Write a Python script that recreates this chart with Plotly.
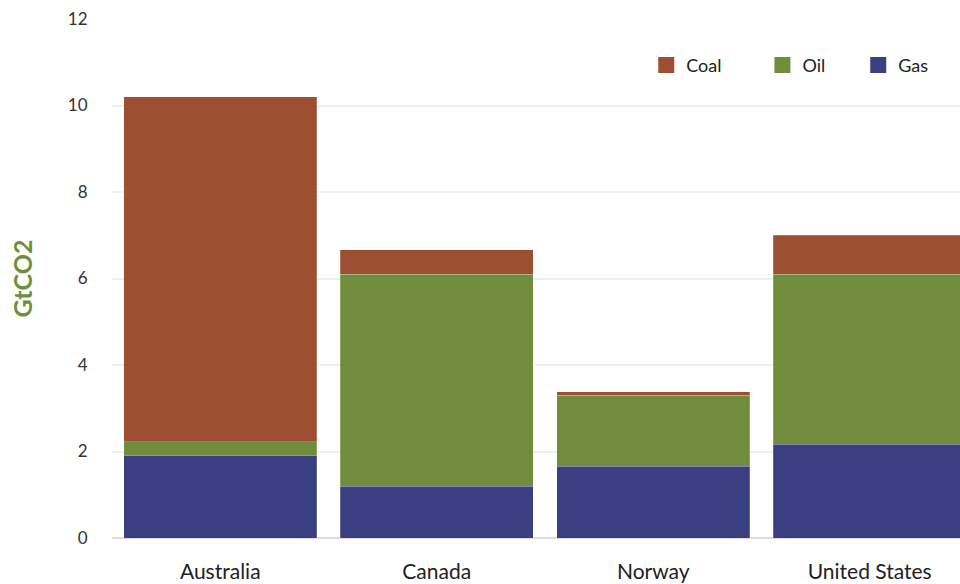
import plotly.graph_objects as go

countries = ["Australia", "Canada", "Norway", "United States"]
gas = [1.9, 1.2, 1.66, 2.17]
oil = [0.32, 4.9, 1.64, 3.93]
coal = [7.98, 0.57, 0.08, 0.9]

series_names = ["Coal", "Oil", "Gas"]
colors = {"Coal": "#9C4F31", "Oil": "#708D3D", "Gas": "#393F80"}
legend_ids = {"Coal": "legend", "Oil": "legend2", "Gas": "legend3"}
legend_x = {"Coal": 0.630, "Oil": 0.767, "Gas": 0.880}

FONT = "Lato"

fig = go.Figure()
for name, vals in [("Gas", gas), ("Oil", oil), ("Coal", coal)]:
    fig.add_trace(go.Bar(
        x=countries, y=vals, name=name,
        marker=dict(color=colors[name], line=dict(width=0.6, color="rgba(255,255,255,0.35)")),
        showlegend=False,
    ))

# legend entries (Coal, Oil, Gas order), each in its own legend box
for name in series_names:
    fig.add_trace(go.Scatter(
        x=[None], y=[None], mode="markers", name=name,
        marker=dict(symbol="square", size=17, color=colors[name]),
        showlegend=True, legend=legend_ids[name],
    ))

def legend_box(name):
    return dict(
        orientation="h", x=legend_x[name], xanchor="left", y=0.911, yanchor="middle",
        font=dict(size=18, color="#222222", family=FONT),
        itemsizing="trace", bgcolor="rgba(0,0,0,0)",
    )

fig.update_layout(
    width=960, height=584,
    barmode="stack",
    bargap=0.11,
    plot_bgcolor="white", paper_bgcolor="white",
    margin=dict(l=112, r=0, t=19, b=46, autoexpand=False),
    font=dict(family=FONT, color="#222222", size=16),
    legend=legend_box("Coal"),
    legend2=legend_box("Oil"),
    legend3=legend_box("Gas"),
    xaxis=dict(
        range=[-0.5, 3.417],
        showgrid=False, showline=False, zeroline=False,
        ticks="outside", ticklen=0, ticklabelstandoff=15,
        tickfont=dict(size=21, color="#222222", family=FONT),
    ),
    yaxis=dict(
        range=[0, 12], tickvals=[0, 2, 4, 6, 8, 10, 12],
        showgrid=True, gridcolor="#EEEEEE", gridwidth=2,
        zeroline=True, zerolinecolor="#DDDDDD", zerolinewidth=2,
        showline=False, ticks="outside", ticklen=0, ticklabelstandoff=20,
        tickfont=dict(size=17, color="#333333", family=FONT),
        title=dict(text="<b>GtCO2</b>", font=dict(size=25, color="#6F8F3C", family=FONT), standoff=28),
    ),
)

fig.write_html("out.html")
